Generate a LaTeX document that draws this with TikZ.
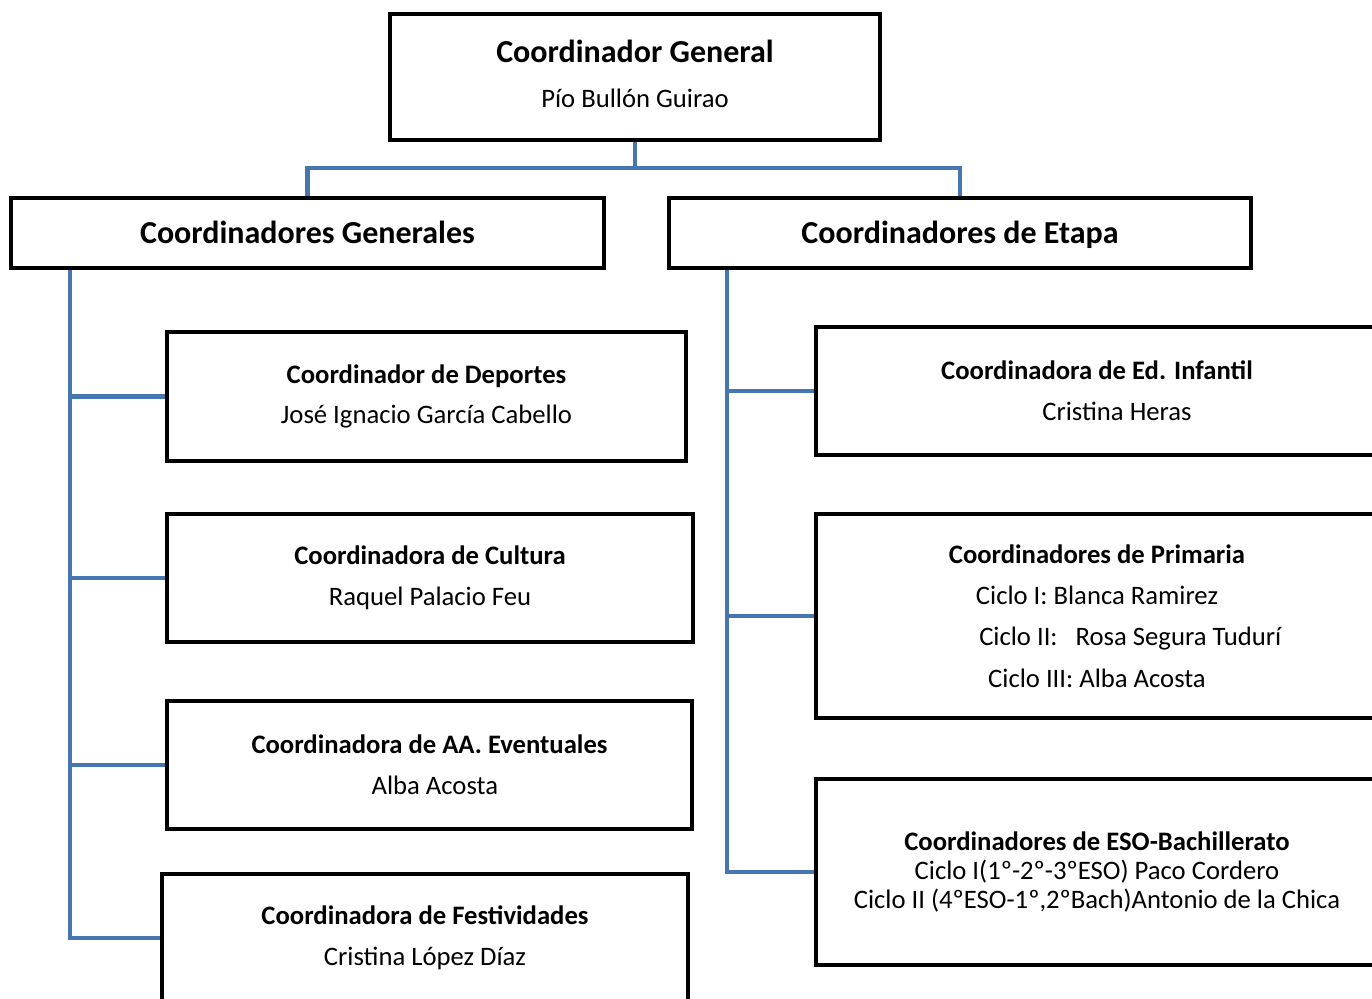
\documentclass[tikz,border=0pt]{standalone}
\usepackage{fontspec}
\setmainfont{Carlito}
\usepackage{tikz}

\definecolor{linkblue}{RGB}{70,118,176}

\begin{document}
\begin{tikzpicture}[x=0.75pt,y=-0.75pt,
	box/.style={draw,line width=3.5pt,inner sep=0pt,align=center,font=\fontsize{20}{30.5}\selectfont},
	head/.style={box,minimum height=52.5pt,text height=17pt,text depth=2pt,font=\fontsize{24}{30}\selectfont\bfseries},
	link/.style={draw=linkblue,line width=3.2pt}]
	\path[use as bounding box,fill=white] (0,0) rectangle (1372,999);
	\clip (0,0) rectangle (1372,999);
	
	%TOP BOX
	\node[box,minimum width=367.5pt,minimum height=94.5pt,text depth=5pt,font=\fontsize{20}{33.5}\selectfont] (general) at (635,77)
		{{\fontsize{24}{33.5}\selectfont\bfseries Coordinador General}\\Pío Bullón Guirao};
	
	%SECOND LEVEL
	\node[head,minimum width=444.75pt] (cgen) at (307.5,233) {Coordinadores Generales};
	\node[head,minimum width=436.5pt] (cetapa) at (960,233) {Coordinadores de Etapa};
	
	%LEFT BOXES
	\node[box,minimum width=389.25pt,minimum height=96.75pt] (deportes) at (426.5,396.5)
		{\textbf{Coordinador de Deportes}\\José Ignacio García Cabello};
	\node[box,minimum width=394.5pt,minimum height=96pt] (cultura) at (430,578)
		{\textbf{Coordinadora de Cultura}\\Raquel Palacio Feu};
	\node[box,minimum width=393.75pt,minimum height=96pt] (eventuales) at (429.5,765)
		{\textbf{Coordinadora de AA. Eventuales}\\\hspace*{8pt}Alba Acosta};
	\node[box,minimum width=394.5pt,minimum height=96pt] (festividades) at (425,938)
		{\textbf{Coordinadora de Festividades}\\Cristina López Díaz};
	
	%RIGHT BOXES (CUT BY THE EDGE)
	\node[box,minimum width=421.5pt,minimum height=96pt] (infantil) at (1097,391)
		{\textbf{Coordinadora de Ed. Infantil}\\\hspace*{30pt}Cristina Heras};
	\node[box,minimum width=421.5pt,minimum height=153pt,font=\fontsize{20}{31}\selectfont] (primaria) at (1097,616)
		{\textbf{Coordinadores de Primaria}\\Ciclo I: Blanca Ramirez\\\hspace*{50pt}Ciclo II:\ \ \ Rosa Segura Tudurí\\Ciclo III: Alba Acosta};
	\node[box,minimum width=421.5pt,minimum height=139.5pt,font=\fontsize{20}{22}\selectfont] (eso) at (1097,872)
		{\textbf{Coordinadores de ESO-Bachillerato}\\Ciclo I(1º-2º-3ºESO) Paco Cordero\\Ciclo II (4ºESO-1º,2ºBach)Antonio de la Chica};
	
	%TOP CONNECTORS
	\draw[link] (general.south) -- ++(0,26) -| (cgen.north);
	\draw[link] (general.south) -- ++(0,26) -| (cetapa.north);
	
	%LEFT TRUNK
	\coordinate (ltrunk) at (70,0 |- cgen.south);
	\draw[link] (ltrunk) |- (festividades.west);
	\draw[link] (ltrunk |- deportes.west) -- (deportes.west);
	\draw[link] (ltrunk |- cultura.west) -- (cultura.west);
	\draw[link] (ltrunk |- eventuales.west) -- (eventuales.west);
	
	%RIGHT TRUNK
	\coordinate (rtrunk) at (727,0 |- cetapa.south);
	\draw[link] (rtrunk) |- (eso.west);
	\draw[link] (rtrunk |- infantil.west) -- (infantil.west);
	\draw[link] (rtrunk |- primaria.west) -- (primaria.west);
\end{tikzpicture}
\end{document}
